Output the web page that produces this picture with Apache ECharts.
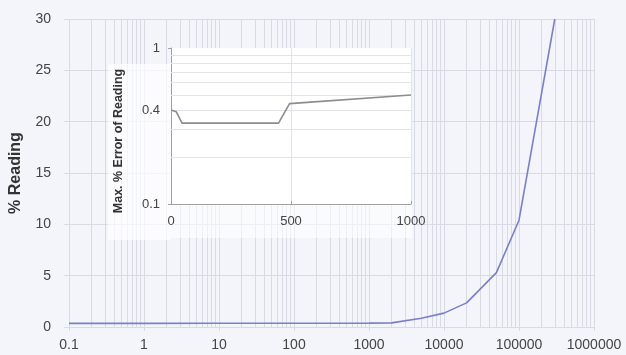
<!DOCTYPE html>
<html>
<head>
<meta charset="utf-8">
<script src="https://cdn.jsdelivr.net/npm/echarts@6/dist/echarts.min.js"></script>
<style>
html,body{margin:0;padding:0;background:#f3f5fb;}
#chart{width:626px;height:355px;}
</style>
</head>
<body>
<div id="chart"></div>
<script>
// ---- data: main chart (% Reading vs reading) ----
var mainX = [0.1, 1, 10, 100, 1000, 2000, 5000, 10000, 20000, 50000, 100000, 300000];
var mainY = [0.35, 0.35, 0.36, 0.37, 0.38, 0.4, 0.85, 1.35, 2.35, 5.3, 10.4, 30];
var mainXTicks = ['0.1', '1', '10', '100', '1000', '10000', '100000', '1000000'];
var mainYTicks = [0, 5, 10, 15, 20, 25, 30];

// ---- data: inset (Max. % Error of Reading vs reading) ----
var insetX = [0, 22, 46, 448, 494, 1000];
var insetY = [0.4, 0.39, 0.33, 0.33, 0.44, 0.5];
var insetXTicks = [0, 500, 1000];
var insetYTicks = ['0.1', '0.4', '1'];

var GRID = '#d8dbe4';
var TEXT = '#444';
var FONT = 'Liberation Sans, Arial, sans-serif';

function pairs(xs, ys) { return xs.map(function (x, i) { return [x, ys[i]]; }); }

// minor log gridlines (2..9 x each decade)
var mainMinor = [];
for (var e = -1; e < 6; e++) {
  for (var m = 2; m <= 9; m++) mainMinor.push({ xAxis: Number((m * Math.pow(10, e)).toPrecision(6)) });
}
var insetMinor = [];
for (var k = 2; k <= 9; k++) {
  var v = k / 10;
  var item = { yAxis: v };
  if (String(v) === insetYTicks[1]) {
    item.label = { show: true, position: 'start', formatter: insetYTicks[1], distance: 11,
      color: TEXT, fontSize: 13, fontFamily: FONT };
  }
  insetMinor.push(item);
}

function logLabel(val) {
  var idx = Math.round(Math.log10(val)) + 1;
  return mainXTicks[idx] !== undefined ? mainXTicks[idx] : '';
}

var chart = echarts.init(document.getElementById('chart'));
chart.setOption({
  animation: false,
  backgroundColor: '#f3f5fb',
  textStyle: { fontFamily: FONT },
  grid: [
    { left: 67, right: 32, top: 19, bottom: 28, show: false },
    { left: 171, top: 48, width: 240, height: 156, show: true, backgroundColor: '#ffffff', borderWidth: 0, z: 3 }
  ],
  graphic: [
    { type: 'rect', z: 2.5, shape: { x: 108, y: 64, width: 63, height: 176 }, style: { fill: 'rgba(255,255,255,0.7)' }, silent: true },
    { type: 'rect', z: 2.5, shape: { x: 171, y: 204, width: 241, height: 34 }, style: { fill: 'rgba(255,255,255,0.55)' }, silent: true },
    { type: 'text', z: 6, x: 119, y: 141, rotation: Math.PI / 2,
      style: { text: 'Max. % Error of Reading', font: 'bold 12.5px ' + FONT, fill: '#333', align: 'center', verticalAlign: 'middle' } }
  ],
  xAxis: [
    { type: 'log', logBase: 10, min: 0.1, max: 1000000, splitNumber: 7, gridIndex: 0,
      axisLine: { show: false },
      axisTick: { show: true, length: 4, lineStyle: { color: GRID } },
      axisLabel: { color: TEXT, fontSize: 14, margin: 11, formatter: logLabel },
      splitLine: { show: true, lineStyle: { color: GRID, width: 1 } },
      minorTick: { show: false }
    },
    { type: 'value', min: insetXTicks[0], max: insetXTicks[2], interval: insetXTicks[1] - insetXTicks[0], gridIndex: 1, z: 4,
      axisLine: { show: true, lineStyle: { color: '#a0a0a0' } },
      axisTick: { show: true, length: 3, inside: true, lineStyle: { color: '#a0a0a0' } },
      axisLabel: { color: TEXT, fontSize: 13, margin: 11, formatter: function (v) { return String(v); } },
      splitLine: { show: true, lineStyle: { color: '#e2e4ea' } }
    }
  ],
  yAxis: [
    { type: 'value', min: mainYTicks[0], max: mainYTicks[mainYTicks.length - 1], interval: mainYTicks[1] - mainYTicks[0], gridIndex: 0,
      name: '% Reading', nameLocation: 'middle', nameGap: 45,
      nameTextStyle: { color: '#333', fontSize: 16, fontWeight: 'bold', fontFamily: FONT },
      axisLine: { show: false },
      axisTick: { show: true, length: 5, lineStyle: { color: GRID } },
      axisLabel: { color: TEXT, fontSize: 14, margin: 18 },
      splitLine: { show: true, lineStyle: { color: GRID, width: 1 } }
    },
    { type: 'log', logBase: 10, min: Number(insetYTicks[0]), max: Number(insetYTicks[2]), gridIndex: 1, z: 4,
      axisLine: { show: true, lineStyle: { color: '#a0a0a0' } },
      axisTick: { show: true, length: 3, lineStyle: { color: '#a0a0a0' } },
      axisLabel: { color: TEXT, fontSize: 13, margin: 11, formatter: function (v) { return String(Number(v.toPrecision(4))); } },
      splitLine: { show: false }
    }
  ],
  series: [
    { type: 'line', xAxisIndex: 0, yAxisIndex: 0, z: 2, data: pairs(mainX, mainY),
      showSymbol: false, symbol: 'none',
      lineStyle: { color: '#7b7fc6', width: 1.6 },
      markLine: { silent: true, symbol: 'none', animation: false, label: { show: false },
        lineStyle: { color: GRID, type: 'solid', width: 1 }, data: mainMinor, z: 1 }
    },
    { type: 'line', xAxisIndex: 1, yAxisIndex: 1, z: 5, data: pairs(insetX, insetY),
      showSymbol: false, symbol: 'none',
      lineStyle: { color: '#8c8c8c', width: 1.6 },
      markLine: { silent: true, symbol: 'none', animation: false, label: { show: false },
        lineStyle: { color: '#e2e4ea', type: 'solid', width: 1 }, data: insetMinor }
    }
  ]
});
</script>
</body>
</html>
